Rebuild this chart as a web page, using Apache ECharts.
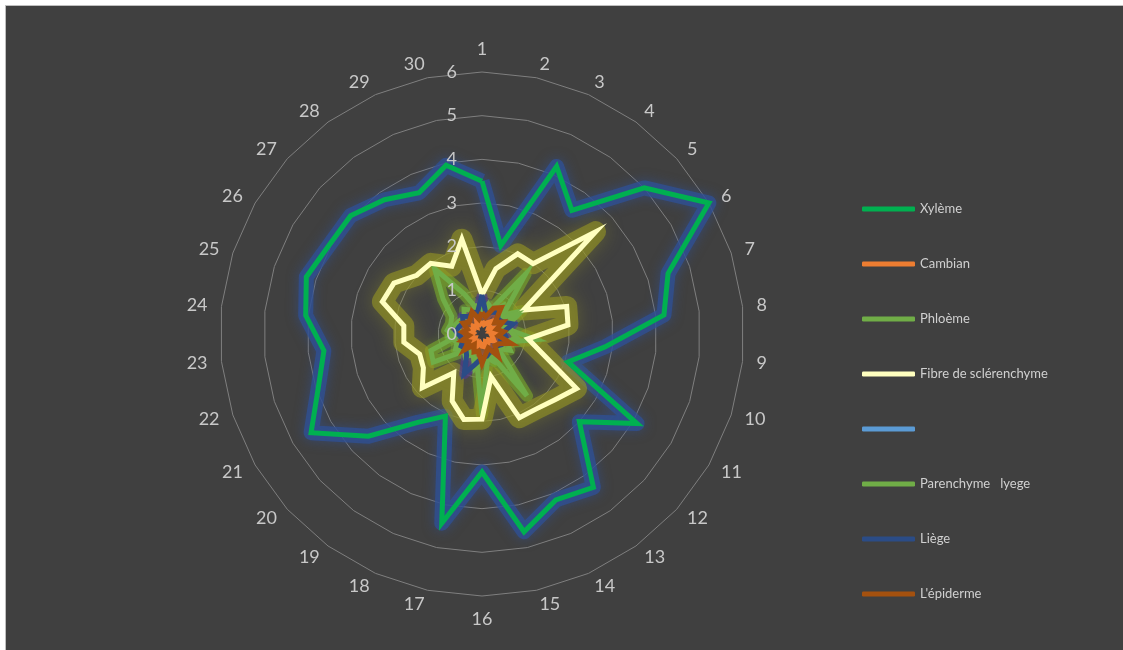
<!DOCTYPE html>
<html>
<head>
<meta charset="utf-8">
<script src="https://cdn.jsdelivr.net/npm/echarts@6/dist/echarts.min.js"></script>
<style>
html,body{margin:0;padding:0;background:#ffffff;}
#frame{position:absolute;left:5px;top:5px;width:1117px;height:644px;background:#404040;border-left:1px solid #BFBFBF;border-top:1px solid #BFBFBF;}
#chart{position:absolute;left:0;top:0;width:1123px;height:650px;}
</style>
</head>
<body>
<div id="frame"></div>
<div id="chart"></div>
<script>
// Spoke categories (clockwise from the top)
const categories = ['1','2','3','4','5','6','7','8','9','10','11','12','13','14','15','16','17','18','19','20','21','22','23','24','25','26','27','28','29','30'];
const ringTicks = [0,1,2,3,4,5,6];

// Series names
const seriesNames = ['Xylème','Cambian','Phloème','Fibre de sclérenchyme',' ','Parenchyme   lyege','Liège',"L'épiderme"];

// Series values, one per category
const xyleme   = [3.5,2.07,4.2,3.5,5.0,6.0,4.48,4.19,2.83,2.07,4.1,3.0,4.34,4.16,4.63,3.16,4.43,2.06,2.5,3.5,4.52,3.94,3.64,4.06,4.23,4.05,4.05,3.8,3.54,3.95];
const cambian  = [0.3,0.22,0.28,0.35,0.2,0.27,0.18,0.3,0.22,0.26,0.32,0.2,0.24,0.19,0.3,0.28,0.21,0.33,0.2,0.24,0.18,0.3,0.26,0.2,0.31,0.22,0.27,0.19,0.3,0.23];
const phloeme  = [0.6,0.55,0.7,1.7,0.65,1.05,0.6,0.7,1.25,0.6,0.55,0.5,1.75,0.55,0.6,1.85,0.6,0.55,0.5,0.6,1.29,1.23,0.6,0.8,0.75,0.8,1.2,1.85,1.0,0.6];
const fibre    = [0.9,1.53,2.01,1.99,3.5,1.1,2.04,1.98,1.06,1.46,2.5,2.25,2.12,2.1,1.0,1.95,2.0,1.68,1.1,1.84,1.55,1.5,1.8,1.8,2.4,2.33,2.01,2.0,1.7,2.22];
const blank    = [0,0,0,0,0,0,0,0,0,0,0,0,0,0,0,0,0,0,0,0,0,0,0,0,0,0,0,0,0,0];
const parench  = [0.5,0.7,0.6,0.8,0.55,0.9,0.5,0.65,0.8,0.6,0.75,0.5,0.6,0.7,0.55,0.6,0.8,0.5,0.65,0.55,0.7,0.6,0.75,0.5,0.65,0.6,0.55,0.7,0.6,0.65];
const liege    = [0.9,0.45,0.55,0.6,0.5,0.55,0.75,0.5,0.55,0.45,0.5,0.42,0.5,0.45,0.52,0.55,0.7,1.0,0.6,0.5,0.55,0.45,0.5,0.6,0.55,0.5,0.6,0.5,0.55,0.5];
const epiderme = [0.5,0.4,0.65,0.75,0.4,0.55,0.35,0.5,0.38,0.7,0.45,0.4,0.62,0.35,0.45,0.67,0.4,0.45,0.3,0.55,0.35,0.48,0.3,0.45,0.35,0.5,0.4,0.45,0.56,0.35];

const colors = ['#00B050','#ED7D31','#70AD47','#FFFFBF','#5B9BD5','#70AD47','#2B4C86','#A4510F'];
const glowColors = ['rgba(47,80,150,0.75)',null,'rgba(130,190,40,0.5)','rgba(150,150,35,0.6)',null,'rgba(130,190,40,0.4)','rgba(80,60,140,0.65)','rgba(190,100,40,0.45)'];
const glowWidths = [15,0,12,21,0,10,10,9];
const glowBlurs  = [12,0,10,18,0,8,8,6];
const allData = [xyleme,cambian,phloeme,fibre,blank,parench,liege,epiderme];

// ECharts radar runs counter-clockwise; reorder indicators so categories go clockwise
const order = categories.map((c,k) => (categories.length - k) % categories.length);
const reorder = arr => order.map(i => arr[i]);

const chart = echarts.init(document.getElementById('chart'), null, {renderer:'canvas'});

const makeIndicator = withLabel => order.map((idx,k) => {
  const o = {name:categories[idx], min:ringTicks[0], max:ringTicks[ringTicks.length-1]};
  if (k === 0 && withLabel) o.axisLabel = {show:true};
  return o;
});

const series = [];
// glow underlays
allData.forEach((vals,i) => {
  if (!glowColors[i]) return;
  series.push({
    type:'radar', radarIndex:0, name:'glow'+i, symbol:'none', z:1, silent:true,
    itemStyle:{color:glowColors[i]},
    lineStyle:{color:glowColors[i], width:glowWidths[i], join:'round', shadowColor:glowColors[i], shadowBlur:glowBlurs[i]},
    data:[{name:'glow'+i, value:reorder(vals)}]
  });
});
// main lines
allData.forEach((vals,i) => {
  series.push({
    type:'radar', radarIndex:0, name:seriesNames[i], symbol:'none', z:5 + i,
    itemStyle:{color:colors[i]},
    lineStyle:{color:colors[i], width:5, join:'miter'},
    data:[{name:seriesNames[i], value:reorder(vals)}]
  });
});

const radarBase = {
  center:[482,334],
  radius:262,
  startAngle:90,
  splitNumber:ringTicks.length - 1,
  shape:'polygon',
  axisLine:{show:false},
  axisTick:{show:false},
  splitArea:{show:false}
};

chart.setOption({
  backgroundColor:'transparent',
  animation:false,
  legend:{
    orient:'vertical',
    left:857,
    top:196,
    itemWidth:53,
    itemHeight:5,
    itemGap:39,
    icon:'roundRect',
    data: seriesNames,
    textStyle:{color:'#D0D0D0', fontSize:13, fontFamily:'Lato', lineHeight:16}
  },
  radar:[
    Object.assign({}, radarBase, {
      z:0,
      indicator: makeIndicator(false),
      axisName:{color:'#C8C8C8', fontSize:18, fontFamily:'Lato'},
      nameGap:14,
      splitLine:{lineStyle:{color:'#7F7F7F', width:1}},
      axisLabel:{show:false}
    }),
    Object.assign({}, radarBase, {
      z:30,
      indicator: makeIndicator(true),
      axisName:{show:false},
      splitLine:{show:false},
      axisLabel:{show:false, color:'#C8C8C8', fontSize:18, fontFamily:'Lato', showMinLabel:true, showMaxLabel:true, margin:25}
    })
  ],
  series: series
});
</script>
</body>
</html>
